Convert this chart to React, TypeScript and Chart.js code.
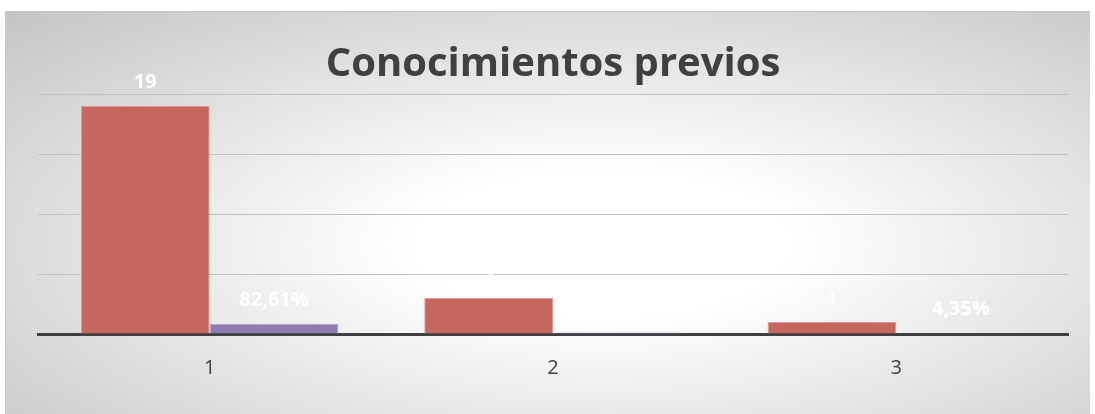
import React, { useEffect, useRef } from "react";
import { Chart, registerables } from "chart.js";

Chart.register(...registerables);

const categories = ["1", "2", "3"];
const countValues = [19, 3, 1];
const shareValues = [0.8261, 0.1304, 0.0435];
const yTicks = [0, 5, 10, 15, 20];
const titleText = "Conocimientos previos";

const fmtCount = (v: number) => String(v);
const fmtShare = (v: number) => (v * 100).toFixed(2).replace(".", ",") + "%";

const labelPlugin = {
  id: "barLabels",
  afterDatasetsDraw(chart: any) {
    const ctx = chart.ctx;
    ctx.save();
    ctx.fillStyle = "#ffffff";
    ctx.font = "bold 20px 'Open Sans', sans-serif";
    ctx.textAlign = "center";
    ctx.textBaseline = "middle";
    chart.data.datasets.forEach((ds: any, di: number) => {
      const meta = chart.getDatasetMeta(di);
      meta.data.forEach((el: any, i: number) => {
        const v = ds.data[i];
        const txt = di === 0 ? fmtCount(v) : fmtShare(v);
        ctx.fillText(txt, el.x, el.y - 24);
      });
    });
    ctx.restore();
  },
};

export default function App() {
  const ref = useRef<HTMLCanvasElement | null>(null);
  useEffect(() => {
    if (!ref.current) return;
    const chart = new Chart(ref.current, {
      type: "bar",
      data: {
        labels: categories,
        datasets: [
          {
            label: "Frecuencia",
            data: countValues,
            backgroundColor: "#c5665f",
            borderColor: "#dc9994",
            borderWidth: 1,
            borderSkipped: "bottom",
            categoryPercentage: 0.75,
            barPercentage: 1,
          },
          {
            label: "Porcentaje",
            data: shareValues,
            backgroundColor: "#8e7bb0",
            borderColor: "#b6a9cf",
            borderWidth: 1,
            borderSkipped: "bottom",
            categoryPercentage: 0.75,
            barPercentage: 1,
          },
        ],
      },
      options: {
        animation: false,
        responsive: false,
        maintainAspectRatio: false,
        devicePixelRatio: 1,
        layout: { padding: { left: 33, right: 22, top: 0, bottom: 12 } },
        plugins: {
          legend: { display: false },
          tooltip: { enabled: false },
          title: {
            display: true,
            text: titleText,
            color: "#404040",
            font: { family: "'Open Sans', sans-serif", size: 40, weight: "bold" },
            padding: { top: 30, bottom: 5 },
          },
        },
        scales: {
          x: {
            grid: { display: false, drawTicks: false },
            border: { display: true, color: "#404040", width: 3 },
            ticks: {
              color: "#404040",
              font: { family: "'Open Sans', sans-serif", size: 20 },
              padding: 22,
            },
          },
          y: {
            min: 0,
            max: 20,
            afterBuildTicks: (axis: any) => {
              axis.ticks = yTicks.map((v) => ({ value: v }));
            },
            grid: { color: "#c2c2c2", lineWidth: 1, drawTicks: false },
            border: { display: false },
            ticks: { display: false },
          },
        },
      },
      plugins: [labelPlugin],
    });
    return () => chart.destroy();
  }, []);

  return (
    <div
      style={{
        position: "fixed",
        left: 0,
        top: 0,
        width: 1095,
        height: 414,
        background: "#ffffff",
      }}
    >
      <div
        style={{
          position: "absolute",
          left: 5,
          top: 11,
          width: 1085,
          height: 403,
          boxShadow: "inset 1px 1px 0 #c8c8c8",
          background:
            "radial-gradient(ellipse farthest-corner at 55% 58%, #ffffff 0%, #ffffff 22%, #c4c4c4 100%)",
        }}
      >
        <canvas
          ref={ref}
          width={1085}
          height={403}
          style={{ display: "block", width: 1085, height: 403 }}
        />
      </div>
    </div>
  );
}
